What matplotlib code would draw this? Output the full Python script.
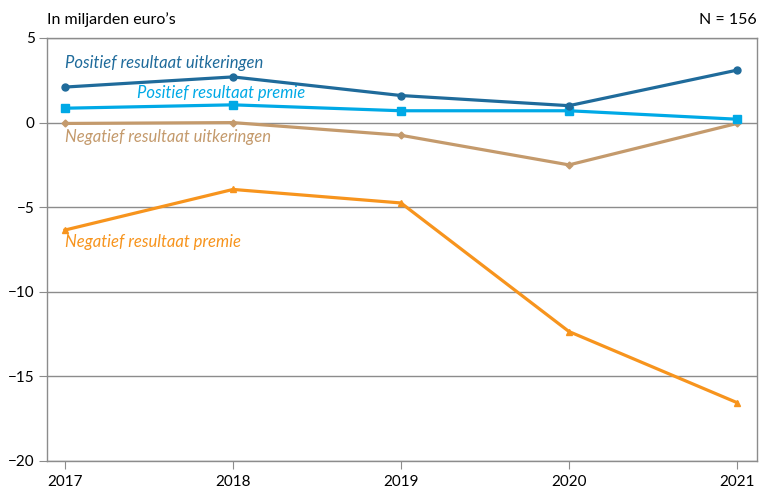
import matplotlib.pyplot as plt

years = [2017, 2018, 2019, 2020, 2021]
pos_uitkeringen = [2.1, 2.7, 1.6, 1.0, 3.1]
pos_premie = [0.85, 1.05, 0.7, 0.7, 0.2]
neg_uitkeringen = [-0.05, 0.0, -0.75, -2.5, -0.05]
neg_premie = [-6.35, -3.95, -4.75, -12.35, -16.55]

yticks = [5, 0, -5, -10, -15, -20]
ytick_labels = ['5', '0', '\u22125', '\u221210', '\u221215', '\u221220']

plt.rcParams['font.family'] = ['Lato', 'DejaVu Sans']

fig = plt.figure(figsize=(7.62, 4.88), dpi=100)
ax = fig.add_axes([47 / 762, 27 / 488, 710 / 762, 423 / 488])

grey = '#8c8c8c'
# series: (values, colour, marker, markersize, label, label position)
series = [
    (neg_premie, '#f7941d', '^', 5, 'Negatief resultaat premie', (2017.0, -7.05)),
    (neg_uitkeringen, '#c49a6c', 'D', 3.5, 'Negatief resultaat uitkeringen', (2017.0, -0.85)),
    (pos_premie, '#00a9e6', 's', 6, 'Positief resultaat premie', (2017.43, 1.75)),
    (pos_uitkeringen, '#1f6b9b', 'o', 5, 'Positief resultaat uitkeringen', (2017.0, 3.5)),
]

for yt in yticks:
    ax.axhline(yt, color=grey, lw=1, zorder=1)

for vals, col, mk, ms, lab, pos in series:
    ax.plot(years, vals, color=col, lw=2.3, marker=mk, markersize=ms, zorder=3)
    ax.text(pos[0], pos[1], lab, color=col, fontsize=12, style='italic',
            va='center', ha='left')

ax.set_xlim(2016.893, 2021.119)
ax.set_ylim(-20, 5)
ax.set_xticks(years)
ax.set_yticks(yticks)
ax.set_yticklabels(ytick_labels)

for sp in ax.spines.values():
    sp.set_color(grey)
    sp.set_linewidth(1)

ax.tick_params(axis='y', length=6, color=grey, labelsize=11, pad=3)
ax.tick_params(axis='x', length=6, color=grey, labelsize=11, pad=4)

fig.text(47 / 762, 1 - 20 / 488, 'In miljarden euro\u2019s', fontsize=11.5,
         ha='left', va='center')
fig.text(757 / 762, 1 - 20 / 488, 'N = 156', fontsize=11.5, ha='right', va='center')

fig.savefig('out.png', dpi=100)
